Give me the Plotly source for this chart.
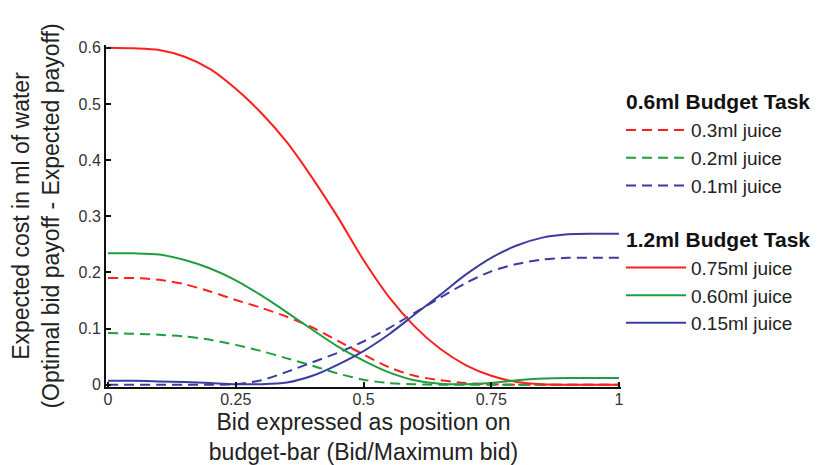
import plotly.graph_objects as go

# Bid position on budget bar (Bid / Maximum bid)
bid = [0.0, 0.05, 0.10, 0.15, 0.20, 0.25, 0.30, 0.35, 0.40, 0.45, 0.50,
       0.55, 0.60, 0.65, 0.70, 0.75, 0.80, 0.85, 0.90, 0.95, 1.0]

# 0.6ml Budget Task (dashed)
juice_03 = [0.190, 0.190, 0.187, 0.179, 0.166, 0.151, 0.137, 0.121, 0.102, 0.078, 0.054,
            0.031, 0.016, 0.008, 0.003, 0.001, 0.000, 0.000, 0.000, 0.000, 0.000]
juice_02 = [0.092, 0.091, 0.089, 0.086, 0.080, 0.071, 0.060, 0.047, 0.034, 0.020, 0.009,
            0.003, 0.001, 0.000, 0.000, 0.000, 0.000, 0.000, 0.000, 0.000, 0.000]
juice_01 = [0.000, 0.000, 0.000, 0.000, 0.000, 0.001, 0.008, 0.023, 0.040, 0.057, 0.077,
            0.101, 0.128, 0.155, 0.181, 0.202, 0.215, 0.223, 0.226, 0.226, 0.226]

# 1.2ml Budget Task (solid)
juice_075 = [0.600, 0.599, 0.596, 0.584, 0.562, 0.527, 0.484, 0.432, 0.368, 0.298, 0.222,
             0.156, 0.104, 0.064, 0.035, 0.016, 0.005, 0.001, 0.000, 0.000, 0.000]
juice_060 = [0.234, 0.234, 0.232, 0.222, 0.207, 0.186, 0.159, 0.129, 0.098, 0.068, 0.043,
             0.022, 0.008, 0.002, 0.001, 0.003, 0.008, 0.011, 0.012, 0.012, 0.012]
juice_015 = [0.007, 0.007, 0.006, 0.005, 0.003, 0.001, 0.001, 0.004, 0.016, 0.036, 0.060,
             0.090, 0.125, 0.160, 0.196, 0.226, 0.248, 0.262, 0.268, 0.269, 0.269]

x_tickvals = [0, 0.25, 0.5, 0.75, 1]
x_ticktext = ["0", "0.25", "0.5", "0.75", "1"]
y_tickvals = [0, 0.1, 0.2, 0.3, 0.4, 0.5, 0.6]
y_ticktext = ["0", "0.1", "0.2", "0.3", "0.4", "0.5", "0.6"]

RED = "#ff1f1f"
GREEN = "#1f9e40"
BLUE = "#3c3ca0"
FONT = "Liberation Sans, Arial, sans-serif"
DASH = "10px,6px"

series = [
    ("0.3ml juice", juice_03, RED, DASH, "g1", "<b>0.6ml Budget Task</b>"),
    ("0.2ml juice", juice_02, GREEN, DASH, "g1", "<b>0.6ml Budget Task</b>"),
    ("0.1ml juice", juice_01, BLUE, DASH, "g1", "<b>0.6ml Budget Task</b>"),
    ("0.75ml juice", juice_075, RED, "solid", "g2", "<b>1.2ml Budget Task</b>"),
    ("0.60ml juice", juice_060, GREEN, "solid", "g2", "<b>1.2ml Budget Task</b>"),
    ("0.15ml juice", juice_015, BLUE, "solid", "g2", "<b>1.2ml Budget Task</b>"),
]

fig = go.Figure()
for name, ys, col, dash, grp, gtitle in series:
    fig.add_trace(go.Scatter(
        x=bid, y=ys, mode="lines", name=name,
        line=dict(color=col, width=2, dash=dash, shape="spline", smoothing=0.8),
        legendgroup=grp,
        legendgrouptitle=dict(text=gtitle, font=dict(size=21, color="#111", family=FONT)),
    ))

fig.update_layout(
    width=840, height=465,
    margin=dict(l=98, r=227, t=37, b=81),
    paper_bgcolor="white", plot_bgcolor="white",
    font=dict(family=FONT, color="#222"),
    showlegend=True,
    legend=dict(
        x=1.0, y=0.895, xanchor="left", yanchor="top",
        font=dict(size=19, color="#222", family=FONT),
        tracegroupgap=24, itemwidth=60,
        bgcolor="rgba(0,0,0,0)",
    ),
    xaxis=dict(
        range=[-0.004, 1.004],
        tickvals=x_tickvals, ticktext=x_ticktext,
        ticks="inside", ticklen=5, tickwidth=1.5, tickcolor="#111",
        showline=True, linecolor="#111", linewidth=2,
        showgrid=False, zeroline=False,
        ticklabelstandoff=-3,
        tickfont=dict(size=16, color="#333", family=FONT),
        title=dict(text="Bid expressed as position on<br>budget-bar (Bid/Maximum bid)",
                   font=dict(size=23, color="#222", family=FONT), standoff=7),
    ),
    yaxis=dict(
        range=[-0.004, 0.605],
        tickvals=y_tickvals, ticktext=y_ticktext,
        ticks="inside", ticklen=5, tickwidth=1.5, tickcolor="#111",
        showline=True, linecolor="#111", linewidth=2,
        showgrid=False, zeroline=False,
        tickfont=dict(size=16, color="#333", family=FONT),
        title=dict(text="Expected cost in ml of water<br>(Optimal bid payoff - Expected payoff)",
                   font=dict(size=23, color="#222", family=FONT), standoff=13),
    ),
)

fig.write_html("out.html")
